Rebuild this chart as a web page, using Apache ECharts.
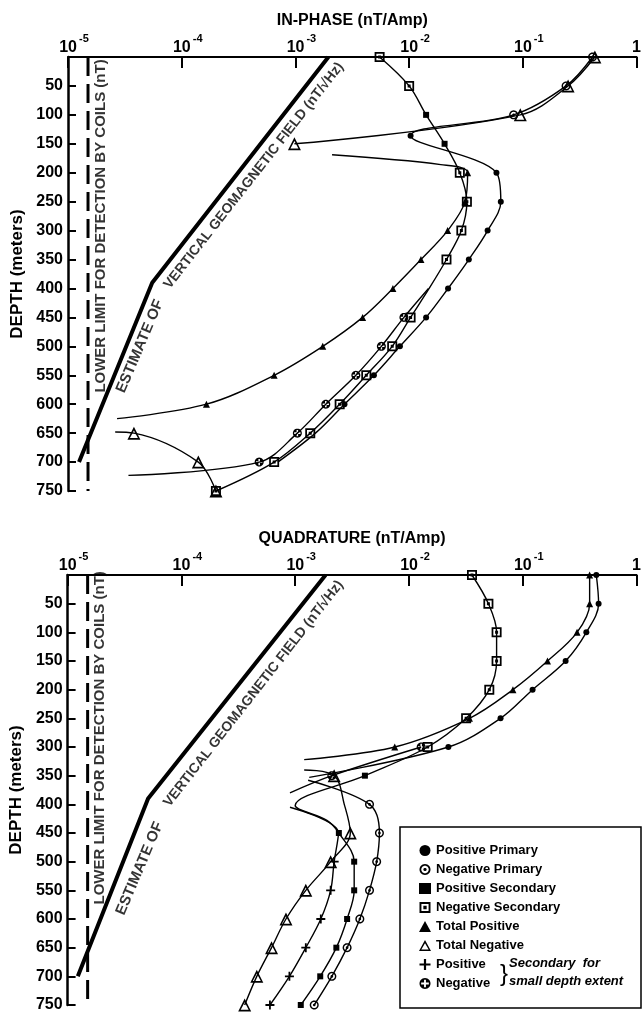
<!DOCTYPE html>
<html>
<head>
<meta charset="utf-8">
<script src="https://cdn.jsdelivr.net/npm/echarts@6/dist/echarts.min.js"></script>
<style>
  html, body { margin: 0; padding: 0; background: #fff; }
  #chart { width: 644px; height: 1013px; }
</style>
</head>
<body>
<div id="chart"></div>
<script>
// depth in metres, field in nT/Amp; sign: 1 = positive marker, -1 = negative marker, 0 = curve point only

// ---- IN-PHASE panel ----
const inTotalUpDepth = [0, 50, 100, 150];
const inTotalUpVal = [0.43, 0.25, 0.095, 0.00098];
const inTotalUpSign = [-1, -1, -1, -1];

const inPrimaryDepth = [0, 50, 100, 136, 200, 250, 300, 350, 400, 450, 500, 550, 600, 650, 700];
const inPrimaryVal = [0.41, 0.24, 0.083, 0.0103, 0.0586, 0.064, 0.049, 0.0335, 0.022, 0.0141, 0.0083, 0.0049, 0.0027, 0.0015, 0.0007];
const inPrimarySign = [-1, -1, -1, 1, 1, 1, 1, 1, 1, 1, 1, 1, 1, 0, 0];

const inSecondaryDepth = [0, 50, 100, 150, 200, 250, 300, 350, 400, 450, 500, 550, 600, 650, 700, 750];
const inSecondaryVal = [0.0055, 0.0100, 0.0141, 0.0205, 0.0279, 0.0322, 0.0288, 0.0213, 0.0150, 0.0103, 0.0071, 0.0042, 0.00245, 0.00135, 0.00065, 0.0002];
const inSecondarySign = [-1, -1, 1, 1, -1, -1, -1, -1, 0, -1, -1, -1, -1, -1, -1, -1];

const inSmallDepth = [400, 450, 500, 550, 600, 650, 700, 723];
const inSmallVal = [0.0148, 0.0090, 0.0057, 0.0034, 0.00185, 0.00104, 0.00048, 0.000034];
const inSmallSign = [0, -1, -1, -1, -1, -1, -1, 0];

const inTotalMidDepth = [169, 186, 200, 250, 300, 350, 400, 450, 500, 550, 600, 625];
const inTotalMidVal = [0.0021, 0.019, 0.0327, 0.031, 0.0218, 0.0127, 0.0072, 0.0039, 0.00174, 0.00065, 0.000165, 0.000027];
const inTotalMidSign = [0, 0, 1, 1, 1, 1, 1, 1, 1, 1, 1, 0];

const inTotalLowDepth = [648, 650, 700, 750];
const inTotalLowVal = [0.000026, 0.000038, 0.00014, 0.0002];
const inTotalLowSign = [0, -1, -1, -1];

// ---- QUADRATURE panel ----
const qPrimaryDepth = [0, 50, 100, 150, 200, 250, 300, 353];
const qPrimaryVal = [0.443, 0.464, 0.362, 0.238, 0.122, 0.0638, 0.0222, 0.00133];
const qPrimarySign = [1, 1, 1, 1, 1, 1, 1, 0];

const qPrimaryNegDepth = [358, 400, 450, 500, 550, 600, 650, 700, 750];
const qPrimaryNegVal = [0.0013, 0.0045, 0.0055, 0.0052, 0.0045, 0.0037, 0.00286, 0.0021, 0.00147];
const qPrimaryNegSign = [0, -1, -1, -1, -1, -1, -1, -1, -1];

const qSecondaryDepth = [0, 50, 100, 150, 200, 250, 300, 350, 402, 428, 450, 500, 550, 600, 650, 700, 750];
const qSecondaryVal = [0.0358, 0.0499, 0.0589, 0.0589, 0.0508, 0.0318, 0.0146, 0.0041, 0.0010, 0.0019, 0.00242, 0.0033, 0.0033, 0.00286, 0.0023, 0.00166, 0.00112];
const qSecondarySign = [-1, -1, -1, -1, -1, -1, -1, 1, 0, 0, 1, 1, 1, 1, 1, 1, 1];

const qTotalDepth = [0, 50, 100, 150, 200, 250, 300, 322];
const qTotalVal = [0.387, 0.387, 0.30, 0.165, 0.082, 0.034, 0.0075, 0.0012];
const qTotalSign = [1, 1, 1, 1, 1, 1, 1, 0];

const qTotalNegDepth = [340, 350, 400, 450, 500, 550, 600, 650, 700, 750];
const qTotalNegVal = [0.0012, 0.0022, 0.0027, 0.00305, 0.00205, 0.00124, 0.00083, 0.00062, 0.00046, 0.00036];
const qTotalNegSign = [0, -1, 0, -1, -1, -1, -1, -1, -1, -1];

const qSmallNegDepth = [300, 350, 380];
const qSmallNegVal = [0.0128, 0.0021, 0.0009];
const qSmallNegSign = [-1, -1, 0];

const qSmallPosDepth = [405, 450, 500, 550, 600, 650, 700, 750];
const qSmallPosVal = [0.0009, 0.0024, 0.0022, 0.00205, 0.00168, 0.00124, 0.00089, 0.0006];
const qSmallPosSign = [0, 0, 1, 1, 1, 1, 1, 1];

// ---- reference lines (same in both panels) ----
const geoDepth = [0, 390, 700];
const geoValTop = [0.00195, 0.000055, 0.0000125];
const geoValBottom = [0.00185, 0.000051, 0.0000123];
const limitDepth = [0, 750];
const limitVal = [0.000015, 0.000015];

// ---- annotations ----
const annText = ['LOWER LIMIT FOR DETECTION BY COILS (nT)', 'ESTIMATE OF', 'VERTICAL GEOMAGNETIC FIELD (nT/\u221AHz)'];
const annVal = [0.0000193, 0.000043, 0.00043];
const annDepthTop = [292, 500, 205];
const annDepthBottom = [284, 512, 207];
const annRotate = [90, 67, 52];
const annSize = [15, 15, 14];

const legendNames = ['Positive Primary', 'Negative Primary', 'Positive Secondary', 'Negative Secondary',
  'Total Positive', 'Total Negative', 'Positive', 'Negative'];

// ---------------------------------------------------------------
const font = '"Liberation Sans", Arial, Helvetica, sans-serif';

function circlePts(cx, cy, r, n, ccw) {
  const pts = [];
  for (let i = 0; i < n; i++) {
    const t = (ccw ? -1 : 1) * i * 2 * Math.PI / n;
    pts.push([cx + r * Math.cos(t), cy + r * Math.sin(t)]);
  }
  return pts;
}
function poly(pts) {
  return 'M' + pts.map(p => p[0].toFixed(2) + ' ' + p[1].toFixed(2)).join(' L') + ' Z ';
}
const plusPts = [[8.3, 3], [11.7, 3], [11.7, 8.3], [17, 8.3], [17, 11.7], [11.7, 11.7], [11.7, 17], [8.3, 17], [8.3, 11.7], [3, 11.7], [3, 8.3], [8.3, 8.3]];

const symbols = {
  'Positive Primary': { symbol: 'circle', size: 6 },
  'Negative Primary': { symbol: 'path://' + poly(circlePts(10, 10, 10, 28, false)) + poly(circlePts(10, 10, 6.8, 28, true)) + poly(circlePts(10, 10, 3, 14, false)), size: 9 },
  'Positive Secondary': { symbol: 'rect', size: 6 },
  'Negative Secondary': { symbol: 'path://' + poly([[0, 0], [20, 0], [20, 20], [0, 20]]) + poly([[3.5, 3.5], [3.5, 16.5], [16.5, 16.5], [16.5, 3.5]]) + poly([[7, 7], [13, 7], [13, 13], [7, 13]]), size: 10 },
  'Total Positive': { symbol: 'triangle', size: 7 },
  'Total Negative': { symbol: 'path://' + poly([[10, 0], [20, 18], [0, 18]]) + poly([[10, 5.2], [3.9, 15.6], [16.1, 15.6]]), size: 13 },
  'Positive': { symbol: 'path://' + poly([[8, 0], [12, 0], [12, 8], [20, 8], [20, 12], [12, 12], [12, 20], [8, 20], [8, 12], [0, 12], [0, 8], [8, 8]]), size: 9 },
  'Negative': { symbol: 'path://' + poly(circlePts(10, 10, 10, 28, false)) + poly(plusPts.slice().reverse()), size: 9 }
};
const kindNames = {
  primary: ['Positive Primary', 'Negative Primary'],
  secondary: ['Positive Secondary', 'Negative Secondary'],
  total: ['Total Positive', 'Total Negative'],
  small: ['Positive', 'Negative']
};

const curves = [
  { grid: 0, kind: 'total', d: inTotalUpDepth, v: inTotalUpVal, s: inTotalUpSign },
  { grid: 0, kind: 'primary', d: inPrimaryDepth, v: inPrimaryVal, s: inPrimarySign },
  { grid: 0, kind: 'secondary', d: inSecondaryDepth, v: inSecondaryVal, s: inSecondarySign },
  { grid: 0, kind: 'small', d: inSmallDepth, v: inSmallVal, s: inSmallSign },
  { grid: 0, kind: 'total', d: inTotalMidDepth, v: inTotalMidVal, s: inTotalMidSign },
  { grid: 0, kind: 'total', d: inTotalLowDepth, v: inTotalLowVal, s: inTotalLowSign },
  { grid: 1, kind: 'primary', d: qPrimaryDepth, v: qPrimaryVal, s: qPrimarySign },
  { grid: 1, kind: 'primary', d: qPrimaryNegDepth, v: qPrimaryNegVal, s: qPrimaryNegSign },
  { grid: 1, kind: 'secondary', d: qSecondaryDepth, v: qSecondaryVal, s: qSecondarySign },
  { grid: 1, kind: 'total', d: qTotalDepth, v: qTotalVal, s: qTotalSign },
  { grid: 1, kind: 'total', d: qTotalNegDepth, v: qTotalNegVal, s: qTotalNegSign },
  { grid: 1, kind: 'small', d: qSmallNegDepth, v: qSmallNegVal, s: qSmallNegSign },
  { grid: 1, kind: 'small', d: qSmallPosDepth, v: qSmallPosVal, s: qSmallPosSign }
];

const series = [];
const markers = [{}, {}];
legendNames.forEach(n => { markers[0][n] = []; markers[1][n] = []; });

curves.forEach(c => {
  const pts = c.d.map((d, i) => [c.v[i], d]);
  series.push({
    type: 'line', xAxisIndex: c.grid, yAxisIndex: c.grid, data: pts,
    smooth: 0.35, symbol: 'none', silent: true, z: 2,
    lineStyle: { color: '#000', width: 1.4 }
  });
  c.s.forEach((sg, i) => {
    if (sg === 0) return;
    const name = kindNames[c.kind][sg > 0 ? 0 : 1];
    markers[c.grid][name].push(pts[i]);
  });
});

[0, 1].forEach(g => {
  legendNames.forEach(n => {
    series.push({
      type: 'scatter', name: n, xAxisIndex: g, yAxisIndex: g, data: markers[g][n],
      symbol: symbols[n].symbol, symbolSize: symbols[n].size, z: 3,
      itemStyle: { color: '#000', opacity: 1 }, silent: true
    });
  });
  const gv = g === 0 ? geoValTop : geoValBottom;
  series.push({
    type: 'line', xAxisIndex: g, yAxisIndex: g, data: geoDepth.map((d, i) => [gv[i], d]),
    symbol: 'none', silent: true, z: 2, lineStyle: { color: '#000', width: 4 }
  });
  series.push({
    type: 'line', xAxisIndex: g, yAxisIndex: g, data: limitDepth.map((d, i) => [limitVal[i], d]),
    symbol: 'none', silent: true, z: 2, lineStyle: { color: '#000', width: 3, type: [19, 8] }
  });
  const ad = g === 0 ? annDepthTop : annDepthBottom;
  annText.forEach((t, i) => {
    series.push({
      type: 'scatter', xAxisIndex: g, yAxisIndex: g, data: [[annVal[i], ad[i]]],
      symbolSize: 0, silent: true, z: 4,
      label: {
        show: true, position: 'inside', formatter: t, rotate: annRotate[i],
        fontFamily: font, fontWeight: 'bold', fontSize: annSize[i], color: '#000'
      }
    });
  });
});

function xAxis(g, name) {
  return {
    type: 'log', logBase: 10, min: 0.00001, max: 1, gridIndex: g, position: 'top',
    name: name, nameLocation: 'middle', nameGap: 28,
    nameTextStyle: { fontFamily: font, fontWeight: 'bold', fontSize: 16, color: '#000' },
    axisLine: { show: true, onZero: false, lineStyle: { color: '#000', width: 2 } },
    axisTick: { show: true, inside: true, length: 11, lineStyle: { color: '#000', width: 2 } },
    minorTick: { show: false }, splitLine: { show: false },
    axisLabel: {
      margin: 1, color: '#000',
      formatter: v => {
        const e = Math.round(Math.log10(v));
        return e === 0 ? '{b|1}' : '{p|}{b|10}{s|' + e + '}';
      },
      rich: {
        b: { fontFamily: font, fontWeight: 'bold', fontSize: 16, lineHeight: 16, verticalAlign: 'bottom', color: '#000' },
        p: { width: 12 },
        s: { fontFamily: font, fontWeight: 'bold', fontSize: 11, lineHeight: 11, padding: [0, 0, 12, 2], verticalAlign: 'bottom', color: '#000' }
      }
    }
  };
}
function yAxis(g) {
  return {
    type: 'value', gridIndex: g, inverse: true, min: 0, max: 750, interval: 50,
    name: 'DEPTH (meters)', nameLocation: 'middle', nameGap: 34, nameRotate: 90,
    nameTextStyle: { fontFamily: font, fontWeight: 'bold', fontSize: 17, color: '#000' },
    axisLine: { show: true, onZero: false, lineStyle: { color: '#000', width: 2.5 } },
    axisTick: { show: true, inside: true, length: 8, lineStyle: { color: '#000', width: 2 } },
    splitLine: { show: false },
    axisLabel: {
      margin: 5, fontFamily: font, fontWeight: 'bold', fontSize: 16, color: '#000',
      formatter: v => (v === 0 ? '' : String(v))
    }
  };
}

const option = {
  animation: false,
  backgroundColor: '#fff',
  grid: [
    { left: 68, top: 57, width: 576, height: 434 },
    { left: 66, top: 575, width: 577, height: 435 }
  ],
  xAxis: [xAxis(0, 'IN-PHASE (nT/Amp)'), xAxis(1, 'QUADRATURE (nT/Amp)')],
  yAxis: [yAxis(0), yAxis(1)],
  legend: {
    data: legendNames, orient: 'vertical', left: 414, top: 839,
    itemWidth: 12, itemHeight: 11, itemGap: 6, selectedMode: false,
    textStyle: { fontFamily: font, fontWeight: 'bold', fontSize: 13, color: '#000' },
    z: 6
  },
  graphic: [
    { type: 'rect', shape: { x: 400, y: 827, width: 241, height: 181 }, style: { fill: '#fff', stroke: '#000', lineWidth: 1.5 }, z: 5 },
    { type: 'text', x: 500, y: 962, style: { text: '}', font: 'normal 24px ' + font, fill: '#000' }, z: 6 },
    { type: 'text', x: 509, y: 957, style: { text: 'Secondary  for', font: 'italic bold 13px ' + font, fill: '#000' }, z: 6 },
    { type: 'text', x: 509, y: 975, style: { text: 'small depth extent', font: 'italic bold 13px ' + font, fill: '#000' }, z: 6 }
  ],
  series: series
};

const chart = echarts.init(document.getElementById('chart'));
chart.setOption(option);
</script>
</body>
</html>
